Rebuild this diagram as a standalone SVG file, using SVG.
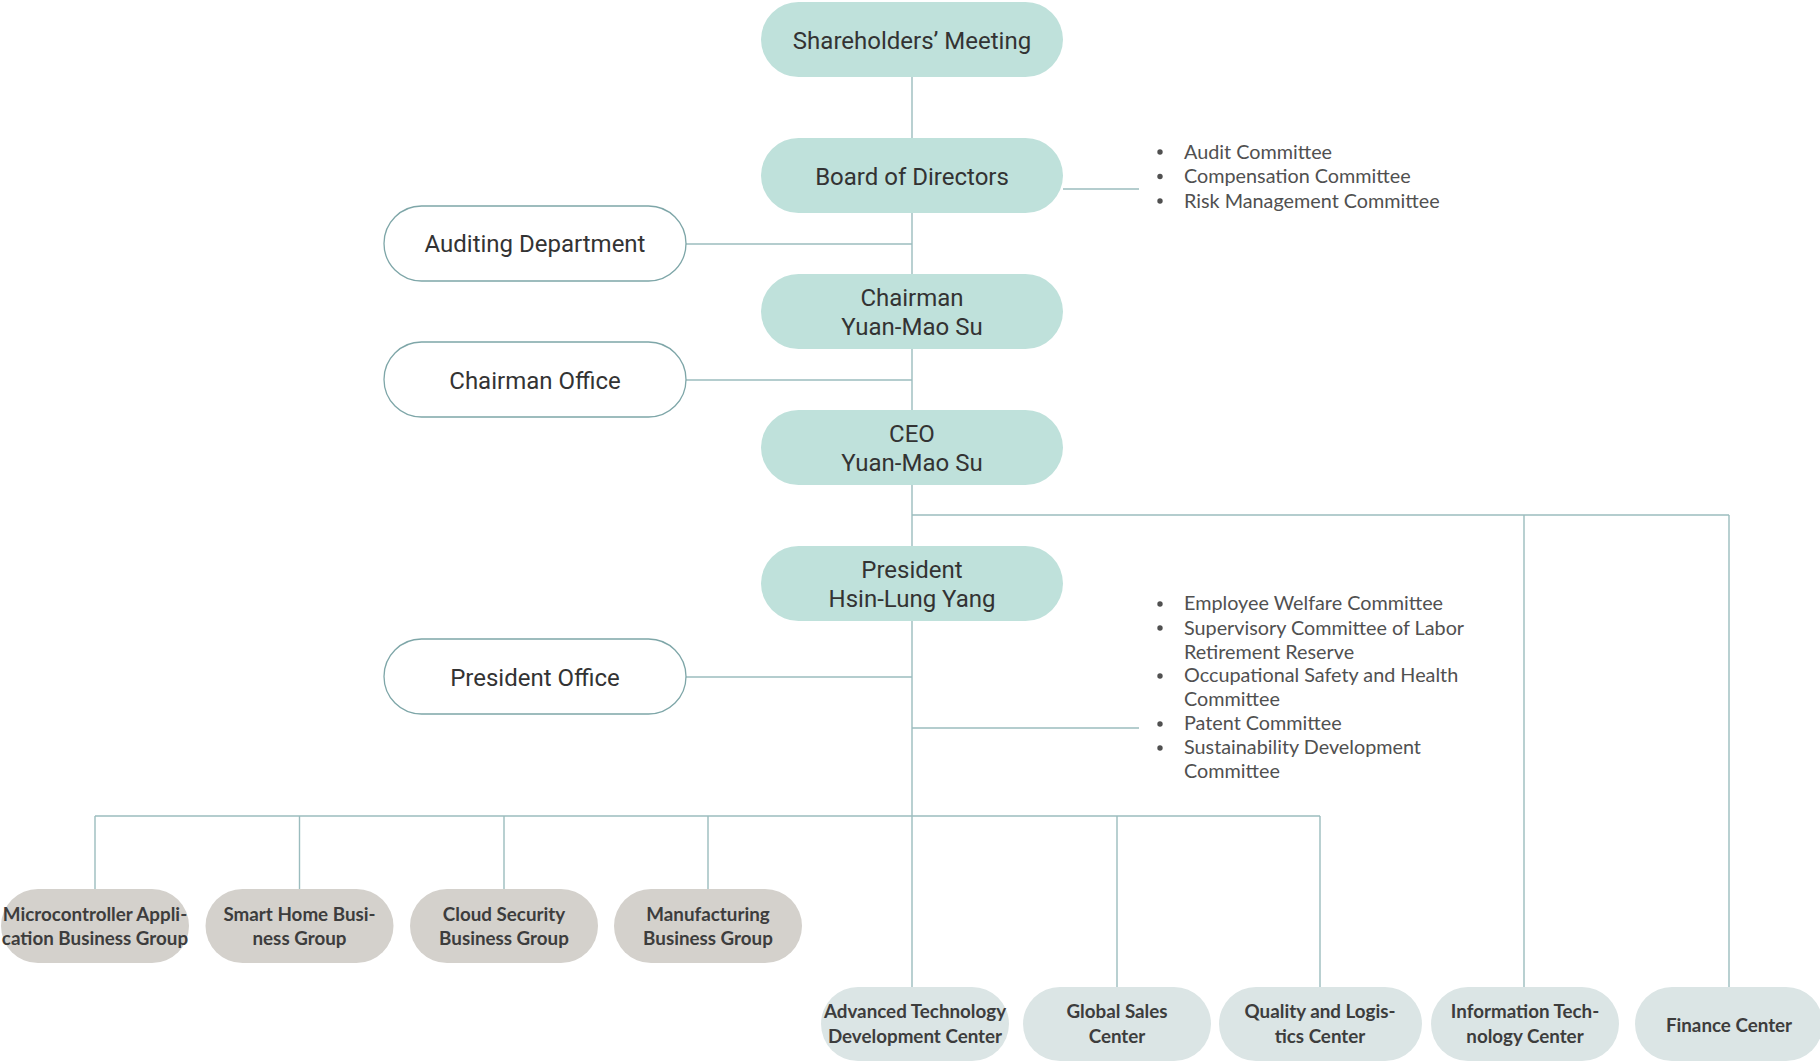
<svg xmlns="http://www.w3.org/2000/svg" width="1820" height="1061" viewBox="0 0 1820 1061">
<style>
.main{fill:#bfe1db;}
.side{fill:#ffffff;stroke:#7ea6a8;stroke-width:1.3;}
.grp{fill:#d4d1cc;}
.ctr{fill:#dbe5e5;}
.t{font-family:Roboto,"Liberation Sans",sans-serif;font-size:24px;fill:#333;text-anchor:middle;}
.b{font-family:Lato,"Open Sans",sans-serif;font-weight:bold;font-size:18.8px;fill:#3d3d3d;text-anchor:middle;}
.c{font-family:Lato,"Open Sans",sans-serif;font-size:19.8px;fill:#505050;}
.con line{stroke:#9bbcbe;stroke-width:1.4;}
</style>
<rect width="1820" height="1061" fill="#ffffff"/>
<g id="connectors" class="con">
<line x1="912" y1="77" x2="912" y2="138"/>
<line x1="912" y1="212" x2="912" y2="274"/>
<line x1="1063" y1="189" x2="1139" y2="189"/>
<line x1="686" y1="244" x2="912" y2="244"/>
<line x1="912" y1="348" x2="912" y2="410"/>
<line x1="686" y1="380" x2="912" y2="380"/>
<line x1="912" y1="484" x2="912" y2="547"/>
<line x1="912" y1="515" x2="1729" y2="515"/>
<line x1="1524" y1="515" x2="1524" y2="987"/>
<line x1="1729" y1="515" x2="1729" y2="987"/>
<line x1="912" y1="621" x2="912" y2="987"/>
<line x1="686" y1="677" x2="912" y2="677"/>
<line x1="912" y1="728" x2="1139" y2="728"/>
<line x1="95" y1="816" x2="1320" y2="816"/>
<line x1="95" y1="816" x2="95" y2="889"/>
<line x1="299.5" y1="816" x2="299.5" y2="889"/>
<line x1="504" y1="816" x2="504" y2="889"/>
<line x1="708" y1="816" x2="708" y2="889"/>
<line x1="1117" y1="816" x2="1117" y2="987"/>
<line x1="1320" y1="816" x2="1320" y2="987"/>
</g>
<g id="shareholders"><rect class="main" x="761" y="2" width="302" height="75" rx="37.5"/><text class="t" x="912" y="48.5">Shareholders’ Meeting</text></g>
<g id="board"><rect class="main" x="761" y="138" width="302" height="75" rx="37.5"/><text class="t" x="912" y="184.5">Board of Directors</text></g>
<g id="chairman"><rect class="main" x="761" y="274" width="302" height="75" rx="37.5"/><text class="t" x="912" y="306">Chairman</text><text class="t" x="912" y="335">Yuan-Mao Su</text></g>
<g id="ceo"><rect class="main" x="761" y="410" width="302" height="75" rx="37.5"/><text class="t" x="912" y="442">CEO</text><text class="t" x="912" y="471">Yuan-Mao Su</text></g>
<g id="president"><rect class="main" x="761" y="546" width="302" height="75" rx="37.5"/><text class="t" x="912" y="578">President</text><text class="t" x="912" y="607">Hsin-Lung Yang</text></g>
<g id="auditing"><rect class="side" x="384" y="206" width="302" height="75" rx="37.5"/><text class="t" x="535" y="252">Auditing Department</text></g>
<g id="chairman-office"><rect class="side" x="384" y="342" width="302" height="75" rx="37.5"/><text class="t" x="535" y="389">Chairman Office</text></g>
<g id="president-office"><rect class="side" x="384" y="639" width="302" height="75" rx="37.5"/><text class="t" x="535" y="686">President Office</text></g>
<g id="board-committees" class="c">
<circle cx="1160" cy="152" r="2.7" fill="#505050"/><text x="1184" y="158.5">Audit Committee</text>
<circle cx="1160" cy="176.5" r="2.7" fill="#505050"/><text x="1184" y="183">Compensation Committee</text>
<circle cx="1160" cy="201" r="2.7" fill="#505050"/><text x="1184" y="207.5">Risk Management Committee</text>
</g>
<g id="president-committees" class="c">
<circle cx="1160" cy="604" r="2.7" fill="#505050"/><text x="1184" y="610">Employee Welfare Committee</text>
<circle cx="1160" cy="628" r="2.7" fill="#505050"/><text x="1184" y="634.5">Supervisory Committee of Labor</text>
<text x="1184" y="658.5">Retirement Reserve</text>
<circle cx="1160" cy="676" r="2.7" fill="#505050"/><text x="1184" y="682">Occupational Safety and Health</text>
<text x="1184" y="706">Committee</text>
<circle cx="1160" cy="724" r="2.7" fill="#505050"/><text x="1184" y="730">Patent Committee</text>
<circle cx="1160" cy="748" r="2.7" fill="#505050"/><text x="1184" y="754">Sustainability Development</text>
<text x="1184" y="778">Committee</text>
</g>
<g id="mcu"><rect class="grp" x="1" y="889" width="188" height="74" rx="37"/><text class="b" x="95" y="921">Microcontroller Appli-</text><text class="b" x="95" y="945">cation Business Group</text></g>
<g id="smarthome"><rect class="grp" x="205.5" y="889" width="188" height="74" rx="37"/><text class="b" x="299.5" y="921">Smart Home Busi-</text><text class="b" x="299.5" y="945">ness Group</text></g>
<g id="cloud"><rect class="grp" x="410" y="889" width="188" height="74" rx="37"/><text class="b" x="504" y="921">Cloud Security</text><text class="b" x="504" y="945">Business Group</text></g>
<g id="manufacturing"><rect class="grp" x="614" y="889" width="188" height="74" rx="37"/><text class="b" x="708" y="921">Manufacturing</text><text class="b" x="708" y="945">Business Group</text></g>
<g id="advanced"><rect class="ctr" x="821" y="987" width="188" height="74" rx="37"/><text class="b" x="915" y="1018">Advanced Technology</text><text class="b" x="915" y="1043">Development Center</text></g>
<g id="sales"><rect class="ctr" x="1023" y="987" width="188" height="74" rx="37"/><text class="b" x="1117" y="1018">Global Sales</text><text class="b" x="1117" y="1043">Center</text></g>
<g id="quality"><rect class="ctr" x="1219" y="987" width="203" height="74" rx="37"/><text class="b" x="1320" y="1018">Quality and Logis-</text><text class="b" x="1320" y="1043">tics Center</text></g>
<g id="it"><rect class="ctr" x="1431" y="987" width="188" height="74" rx="37"/><text class="b" x="1525" y="1018">Information Tech-</text><text class="b" x="1525" y="1043">nology Center</text></g>
<g id="finance"><rect class="ctr" x="1635" y="987" width="188" height="74" rx="37"/><text class="b" x="1729" y="1032">Finance Center</text></g>
</svg>
